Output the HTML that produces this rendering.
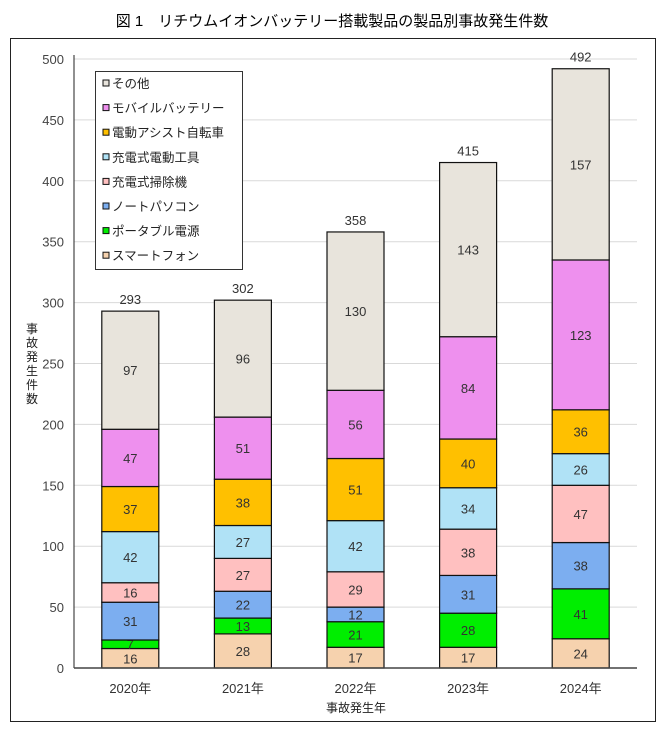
<!DOCTYPE html>
<html><head><meta charset="utf-8"><style>
body{margin:0;background:#fff;font-family:"Liberation Sans","Noto Sans CJK JP",sans-serif;}
svg text{font-family:"Liberation Sans","Noto Sans CJK JP",sans-serif;}
</style></head><body>
<svg id="c" width="664" height="728" xmlns="http://www.w3.org/2000/svg">
<text x="332" y="26" text-anchor="middle" font-size="15" font-family="'Liberation Serif','Noto Serif CJK SC',serif" fill="#000">図 1　リチウムイオンバッテリー搭載製品の製品別事故発生件数</text>
<rect x="10.5" y="38.5" width="645" height="683" fill="none" stroke="#222" stroke-width="1"/>
<g id="grid"></g><g id="bars"></g><g id="axes"></g>
<g id="legend"></g>
</svg>
<script>
const years=["2020年","2021年","2022年","2023年","2024年"];
const seriesNames=["スマートフォン","ポータブル電源","ノートパソコン","充電式掃除機","充電式電動工具","電動アシスト自転車","モバイルバッテリー","その他"];
const colors=["#f6d2ae","#00ee00","#7caef0","#ffc0c0","#b0e2f6","#ffc000","#ee90ee","#e8e4dc"];
const smartphone=[16,28,17,17,24];
const portable=[7,13,21,28,41];
const laptop=[31,22,12,31,38];
const cleaner=[16,27,29,38,47];
const tool=[42,27,42,34,26];
const bike=[37,38,51,40,36];
const mobile=[47,51,56,84,123];
const other=[97,96,130,143,157];
const yTicks=[0,50,100,150,200,250,300,350,400,450,500];
const series=[smartphone,portable,laptop,cleaner,tool,bike,mobile,other];
const NS="http://www.w3.org/2000/svg";
const x0=74,x1=637,y0=668,y1=59;
const yS=v=>y0-(v/500)*(y0-y1);
const bw=(x1-x0)/years.length;
const xC=i=>x0+bw*(i+0.5);
function mk(t,a,p){const e=document.createElementNS(NS,t);for(const k in a)e.setAttribute(k,a[k]);p.appendChild(e);return e;}
const grid=document.getElementById('grid'),bars=document.getElementById('bars'),axes=document.getElementById('axes'),leg=document.getElementById('legend');
yTicks.forEach(v=>{
 if(v>0){const l=mk('line',{x1:x0,x2:x1,y1:yS(v),y2:yS(v),stroke:'#d9d9d9','stroke-width':1},grid);
 
 }
 const t=mk('text',{x:x0-10,y:yS(v)+5,'text-anchor':'end','font-size':13,fill:'#444'},axes);t.textContent=v;
 
 
});
mk('line',{x1:x0,x2:x0,y1:y1-4,y2:y0,stroke:'#222','stroke-width':1},axes);
mk('line',{x1:x0,x2:x1,y1:y0,y2:y0,stroke:'#444','stroke-width':1.5},axes);
years.forEach((yr,i)=>{
 let cum=0;const bx=xC(i)-28.5;
 series.forEach((s,k)=>{
  const v=s[i];const top=yS(cum+v),bot=yS(cum);
  const r=mk('rect',{x:bx,y:top,width:57,height:bot-top,fill:colors[k],stroke:'#111','stroke-width':1.2},bars);
  
  
  const t=mk('text',{x:xC(i),y:(top+bot)/2+5,'text-anchor':'middle','font-size':13,fill:'#333'},bars);t.textContent=v;
  
  
  cum+=v;
 });
 const tt=mk('text',{x:xC(i),y:yS(cum)-7,'text-anchor':'middle','font-size':13,fill:'#333'},bars);tt.textContent=cum;
 
 
 const xl=mk('text',{x:xC(i),y:y0+25,'text-anchor':'middle','font-size':13,fill:'#333'},axes);xl.textContent=yr;
 
 
});
const xt=mk('text',{x:356,y:712,'text-anchor':'middle','font-size':12,fill:'#222'},axes);xt.textContent='事故発生年';


"事故発生件数".split('').forEach((ch,j)=>{const t=mk('text',{x:32,y:333+j*14,'text-anchor':'middle','font-size':12,fill:'#222'},axes);t.textContent=ch;
 
 });
mk('rect',{x:95.5,y:71.5,width:147,height:198,fill:'#fff',stroke:'#333','stroke-width':1},leg);
for(let k=7;k>=0;k--){const j=7-k;const yy=84+j*24.6;
 mk('rect',{x:103,y:yy-4,width:6,height:6,fill:colors[k],stroke:'#111','stroke-width':1},leg);
 const t=mk('text',{x:112,y:yy+4,'font-size':12.5,fill:'#222'},leg);t.textContent=seriesNames[k];
 
 }
</script>
</body></html>
